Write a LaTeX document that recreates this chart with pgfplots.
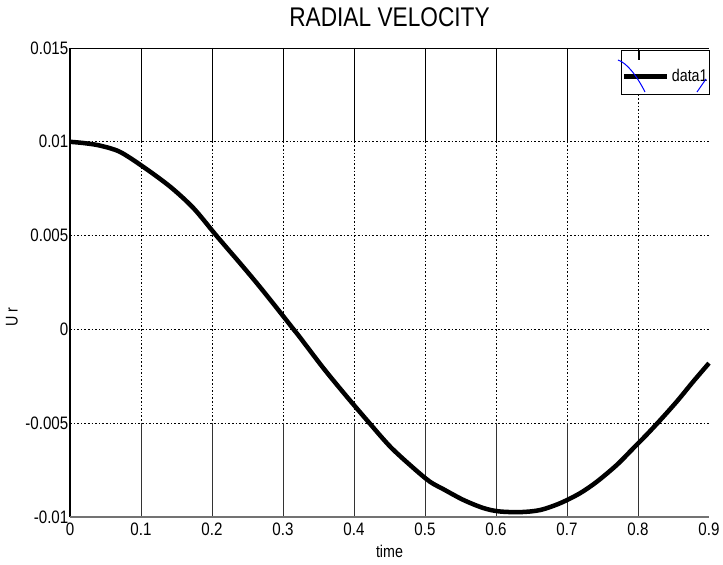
\documentclass[border=0pt]{standalone}
\usepackage{fontspec}
\setmainfont{Liberation Sans}[FakeStretch=0.84]
\usepackage{pgfplots}
\pgfplotsset{compat=1.18}

% radial velocity samples
\pgfplotstableread{
t      ur
0.000  0.01000
0.020  0.00993
0.042  0.00980
0.070  0.00947
0.103  0.00867
0.141  0.00761
0.174  0.00646
0.207  0.00496
0.239  0.00355
0.263  0.00247
0.286  0.00139
0.315  0.00000
0.324 -0.00043
0.357 -0.00207
0.390 -0.00359
0.418 -0.00483
0.451 -0.00625
0.484 -0.00740
0.507 -0.00812
0.526 -0.00852
0.554 -0.00909
0.582 -0.00952
0.604 -0.00970
0.634 -0.00974
0.662 -0.00963
0.690 -0.00927
0.718 -0.00874
0.742 -0.00812
0.770 -0.00723
0.793 -0.00635
0.812 -0.00562
0.831 -0.00485
0.855 -0.00383
0.878 -0.00277
0.900 -0.00180
}\urdata

\begin{document}
\begin{tikzpicture}
\begin{axis}[
    scale only axis,
    width=639pt, height=469pt,
    xmin=0, xmax=0.9,
    ymin=-0.01, ymax=0.015,
    clip=false,
    axis line style={draw=none},
    major tick length=0pt,
    xtick={0,0.1,0.2,0.3,0.4,0.5,0.6,0.7,0.8,0.9},
    xticklabels={0,0.1,0.2,0.3,0.4,0.5,0.6,0.7,0.8,0.9},
    ytick={-0.01,-0.005,0,0.005,0.01,0.015},
    yticklabels={-0.01,-0.005,0,0.005,0.01,0.015},
    scaled y ticks=false,
    tick label style={font=\fontsize{18}{20}\selectfont},
    yticklabel style={inner xsep=1.5pt},
    xticklabel style={inner ysep=6pt},
    title={RADIAL VELOCITY},
    title style={font=\fontsize{27}{30}\selectfont, at={(axis description cs:0.5,1)}, anchor=center, yshift=24.5pt},
    xlabel={time},
    xlabel style={font=\fontsize{17}{20}\selectfont, at={(axis description cs:0.5,0)}, anchor=center, yshift=-34pt},
    ylabel={U r},
    ylabel style={font=\fontsize{17}{20}\selectfont, at={(axis description cs:-0.0908,0.4264)}, anchor=center},
    legend style={at={(axis description cs:1.0016,0.996)}, anchor=north east,
        draw=black, line width=0.8pt, fill=white,
        inner xsep=0pt, inner ysep=9pt,
        font=\fontsize{17}{20}\selectfont},
    legend image code/.code={\path[draw=none, fill=none] (0pt,-1pt) rectangle (43pt,17pt);
        \draw[#1, line width=5pt] (-2pt,0pt) -- (41pt,0pt);},
]
% dotted horizontal grid
\pgfplotsinvokeforeach{-0.005,0,0.005,0.01}{
    \draw[black, line width=0.7pt, dash pattern=on 1.6pt off 2pt] (axis cs:0,#1) -- (axis cs:0.9,#1);
}
% vertical grid: solid at top and bottom, dotted in the middle
\pgfplotsinvokeforeach{0.1,0.2,0.3,0.4,0.5,0.6,0.7}{
    \draw[black, line width=0.8pt] (axis cs:#1,0.015) -- (axis cs:#1,0.01);
}
\pgfplotsinvokeforeach{0.1,0.2,0.3,0.4,0.5,0.6,0.7,0.8}{
    \draw[black, line width=0.7pt, dash pattern=on 1.6pt off 2pt] (axis cs:#1,0.01) -- (axis cs:#1,-0.005);
    \draw[black!80, line width=0.8pt] (axis cs:#1,-0.005) -- (axis cs:#1,-0.01);
}
\draw[black, line width=0.7pt, dash pattern=on 1.6pt off 2pt] (axis cs:0.8,0.015) -- (axis cs:0.8,0.01);
% axis frame pieces
\draw[black, line width=0.9pt] (axis cs:0,0.015) -- (axis cs:0.9,0.015);
\draw[black, line width=1.2pt] (axis cs:0,0.015) -- (axis cs:0,-0.01);
\draw[black!55, line width=1.6pt] (axis cs:0,-0.01) -- (axis cs:0.9,-0.01);
\coordinate (tr) at (axis cs:0.9,0.015);

\addplot[black, line width=4.5pt, smooth, tension=0.5] table[x=t, y=ur] {\urdata};
\addlegendentry{data1}
\end{axis}
% stray bits drawn inside the legend box
\draw[blue, line width=1pt] ([shift={(-91pt,-12pt)}]tr) .. controls ([shift={(-82pt,-15pt)}]tr) and ([shift={(-72pt,-28pt)}]tr) .. ([shift={(-64pt,-44pt)}]tr);
\draw[blue, line width=1pt] ([shift={(-12pt,-44pt)}]tr) -- ([shift={(-3pt,-31pt)}]tr);
\draw[black, line width=2pt] ([shift={(-70pt,-2pt)}]tr) -- ([shift={(-70pt,-12pt)}]tr);
\pgfresetboundingbox
\path (current axis.south west) ++(-70pt,-48pt) rectangle ++(723pt,565pt);
\end{tikzpicture}
\end{document}
